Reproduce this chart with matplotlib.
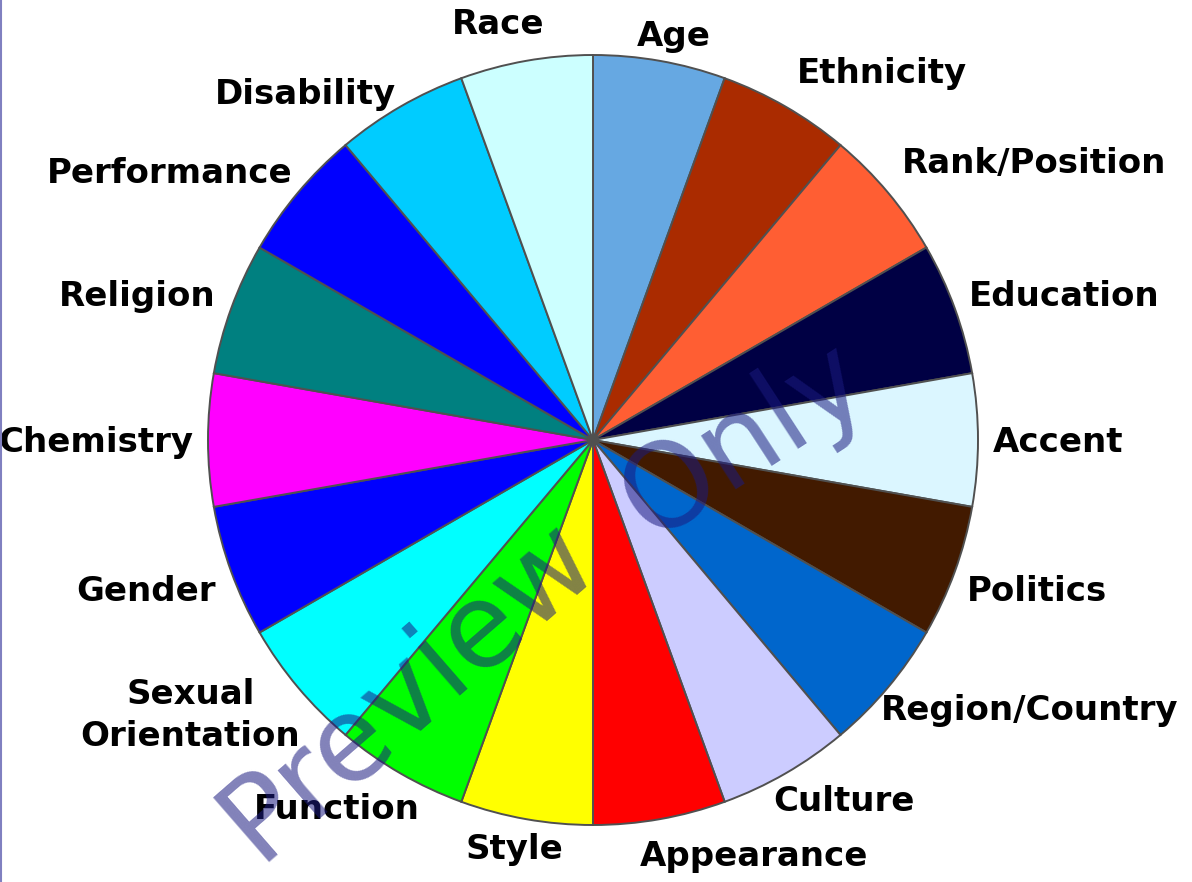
import matplotlib
matplotlib.use("Agg")
import matplotlib.pyplot as plt
from matplotlib.lines import Line2D

categories = ["Age", "Ethnicity", "Rank/Position", "Education", "Accent", "Politics",
              "Region/Country", "Culture", "Appearance", "Style", "Function",
              "Sexual\nOrientation", "Gender", "Chemistry", "Religion", "Performance",
              "Disability", "Race"]
values = [1] * len(categories)
colors = ["#66A8E2", "#AA2B00", "#FF5E33", "#000044", "#DBF6FF", "#421A00",
          "#0066CC", "#CCCCFF", "#FF0000", "#FFFF00", "#00FF00", "#00FFFF",
          "#0000FF", "#FF00FF", "#008080", "#0000FF", "#00CCFF", "#CCFFFF"]
watermark_words = ["Preview", "Only"]

# layout nudges for the labels (pixels: right, down)
label_nudge_x = [-26, 4, 2, 0, -1, -2, -19, -20, -23, 40, 27, 14, -1, 1, -1, 6, 3, 21]
label_nudge_y = [-9, -20, -19, -7, 3, 15, 13, 15, 22, 15, 23, 18, 15, 3, -7, -9, 1, -21]

plt.rcParams['font.family'] = ['DejaVu Sans']

fig = plt.figure(figsize=(11.92, 8.82), dpi=100)
ax = fig.add_axes([208 / 1192, 1 - 825 / 882, 770 / 1192, 770 / 882])

wedges, texts = ax.pie(values, labels=categories, colors=colors, startangle=90,
                       counterclock=False, radius=1.0, labeldistance=1.04,
                       wedgeprops=dict(edgecolor="#505050", linewidth=1.4),
                       textprops=dict(fontsize=24.5, fontweight="bold", color="black"))
px = 2.0 / 770.0
for t, nx, ny in zip(texts, label_nudge_x, label_nudge_y):
    t.set_multialignment("center")
    t.set_linespacing(1.35)
    x, y = t.get_position()
    t.set_position((x + nx * px, y - ny * px))
ax.set_xlim(-1, 1)
ax.set_ylim(-1, 1)
ax.set_aspect("equal")
ax.axis("off")

wm_style = dict(fontsize=84, color="#1a1a80", alpha=0.55, ha="left", va="baseline",
                rotation_mode="anchor", zorder=10)
fig.text(258 / 1192, 1 - 862 / 882, watermark_words[0], rotation=41, **wm_style)
fig.text(650 / 1192, 1 - 541 / 882, watermark_words[1], rotation=33, **wm_style)

fig.add_artist(Line2D([0.001, 0.001], [0, 1], transform=fig.transFigure,
                      color="#8080C0", linewidth=1.5))

fig.savefig("out.png", dpi=100)
